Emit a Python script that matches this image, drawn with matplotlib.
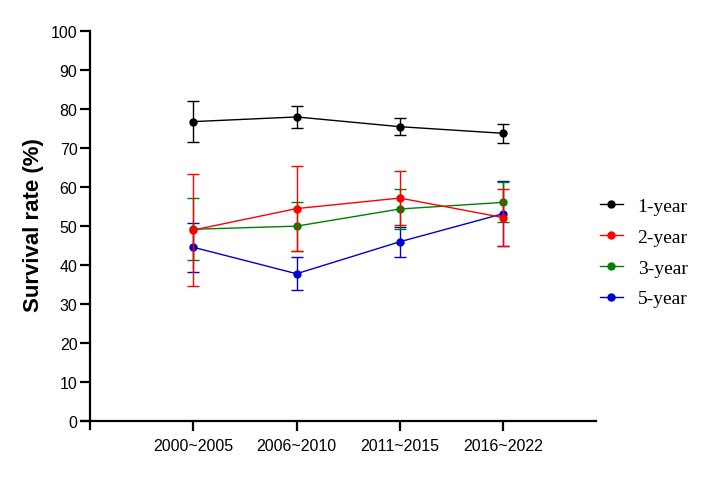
import matplotlib.pyplot as plt
from matplotlib.lines import Line2D
import numpy as np

periods = ["2000~2005", "2006~2010", "2011~2015", "2016~2022"]
labels = ["1-year", "2-year", "3-year", "5-year"]
colors = ["black", "#ff0000", "#008000", "#0000cc"]

rate_1y = [76.8, 78.0, 75.5, 73.8]
err_1y = [5.3, 2.9, 2.2, 2.5]
rate_2y = [49.0, 54.5, 57.2, 52.2]
err_2y = [14.3, 10.8, 6.9, 7.3]
rate_3y = [49.2, 50.0, 54.4, 56.1]
err_3y = [7.9, 6.3, 5.2, 5.1]
rate_5y = [44.6, 37.8, 46.0, 53.2]
err_5y = [6.3, 4.2, 3.9, 8.3]

rates = [rate_1y, rate_2y, rate_3y, rate_5y]
errs = [err_1y, err_2y, err_3y, err_5y]

fig = plt.figure(figsize=(7.08, 5.02), dpi=100)
ax = fig.add_axes([0.127, 0.159, 0.715, 0.777])

x = np.arange(1, len(periods) + 1)
# draw 5-year first so the others sit on top
for i in [3, 2, 1, 0]:
    ax.errorbar(x, rates[i], yerr=errs[i], color=colors[i], marker="o",
                markersize=5, linewidth=1, elinewidth=1, capsize=4,
                capthick=1, zorder=3 + (3 - i))

ax.set_xlim(0, 4.9)
ax.set_ylim(0, 100)
ax.set_yticks(np.arange(0, 101, 10))
ax.set_xticks(x)
ax.set_xticklabels(periods)

for s in ["top", "right"]:
    ax.spines[s].set_visible(False)
for s in ["left", "bottom"]:
    ax.spines[s].set_linewidth(1.6)
# GraphPad style: axes cross slightly past the origin
ax.spines["left"].set_bounds(-2, 100)
ax.spines["bottom"].set_bounds(-0.08, 4.9)
ax.spines["left"].set_clip_on(False)
ax.spines["bottom"].set_clip_on(False)

ax.tick_params(axis="both", width=1.6, length=7)
ax.tick_params(axis="y", pad=2, labelsize=11.5)
ax.tick_params(axis="x", pad=5, labelsize=11.5)
for t in ax.get_xticklabels() + ax.get_yticklabels():
    t.set_family("Liberation Sans")

ax.set_ylabel("Survival rate (%)", fontsize=16, fontweight="bold",
              family="Liberation Sans")
ax.yaxis.set_label_coords(-0.09, 0.505)

handles = [Line2D([], [], color=c, marker="o", markersize=5, linewidth=1)
           for c in colors]
ax.legend(handles=handles, labels=labels, frameon=False,
          loc="upper left", bbox_to_anchor=(0.847, 0.605),
          bbox_transform=fig.transFigure, borderpad=0, borderaxespad=0,
          prop={"family": "Liberation Serif", "size": 14},
          handlelength=1.2, labelspacing=0.68, handletextpad=0.75)

fig.savefig("out.png", dpi=100)
